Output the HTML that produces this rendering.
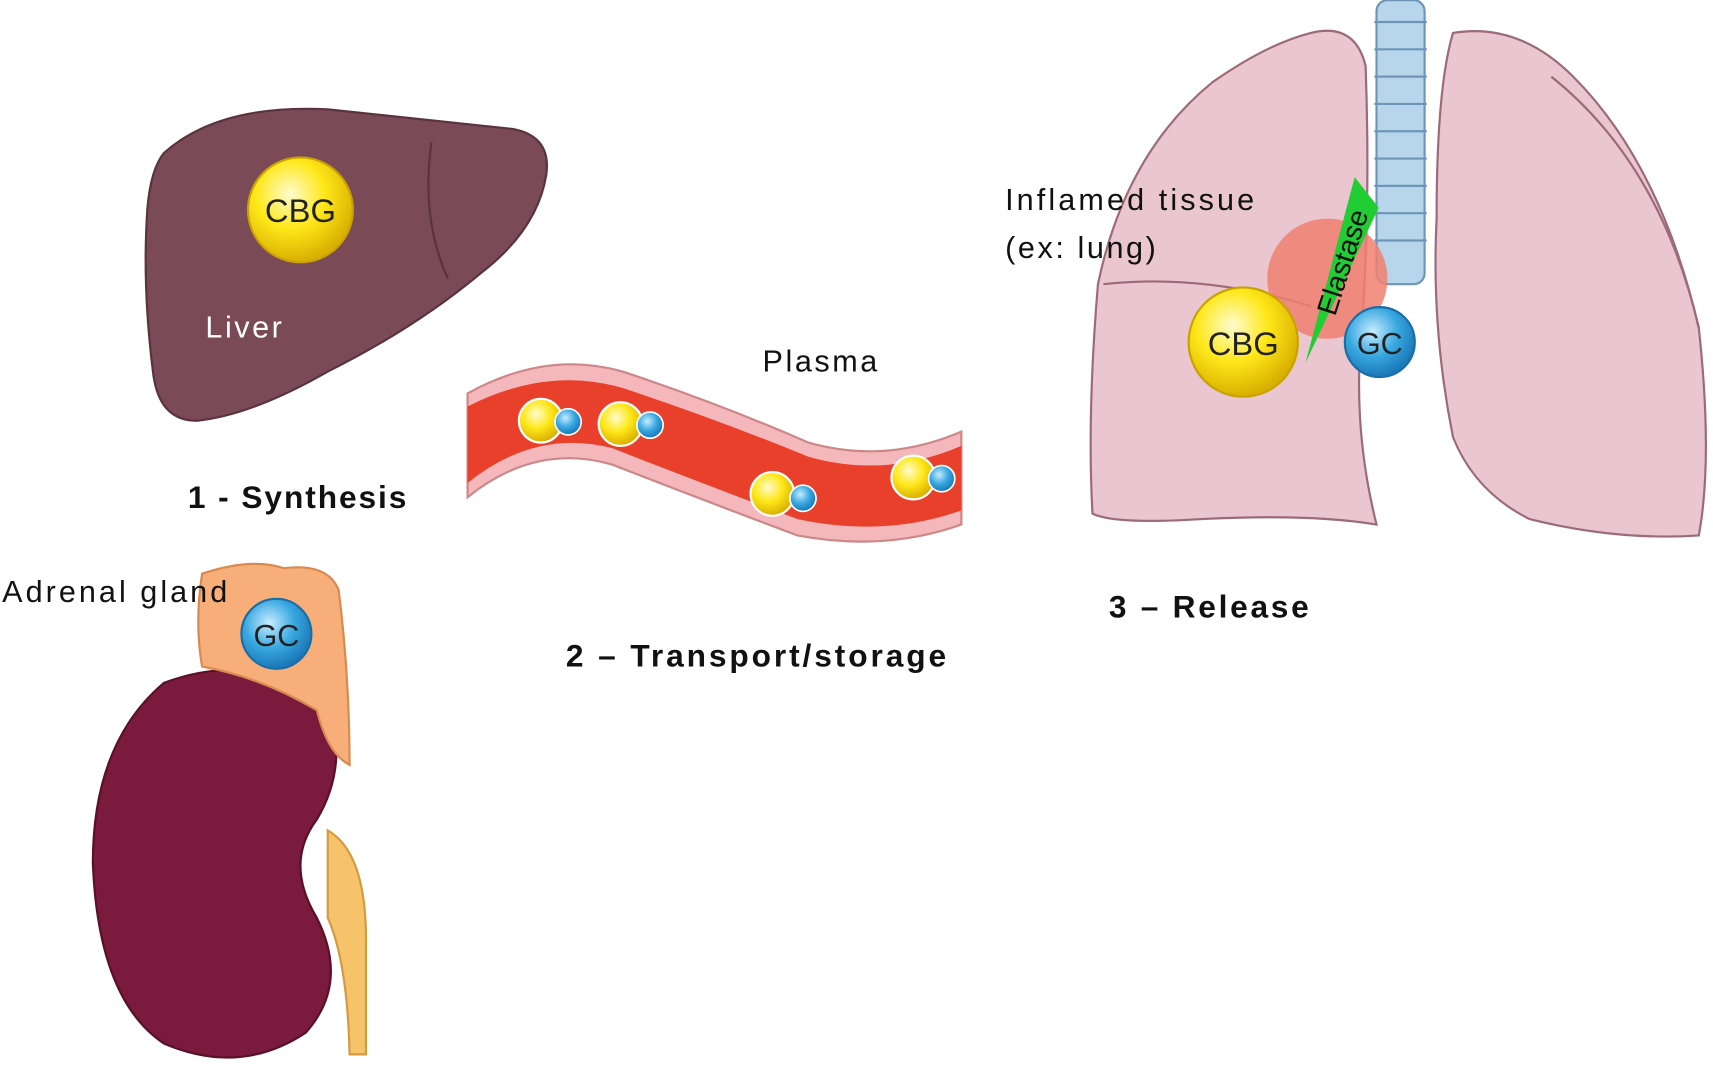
<!DOCTYPE html>
<html><head><meta charset="utf-8"><style>
html,body{margin:0;padding:0;background:#fff;}
svg{display:block}
text{font-family:"Liberation Sans",sans-serif;}
</style></head><body>
<svg width="1713" height="1072" viewBox="0 0 1568 981" xmlns="http://www.w3.org/2000/svg">
<defs>
<radialGradient id="y" cx="40%" cy="35%" r="65%"><stop offset="0" stop-color="#fffbd0"/><stop offset="0.5" stop-color="#ffe81a"/><stop offset="1" stop-color="#d8b000"/></radialGradient>
<radialGradient id="b" cx="40%" cy="35%" r="65%"><stop offset="0" stop-color="#c8ecff"/><stop offset="0.55" stop-color="#38a8e0"/><stop offset="1" stop-color="#1a78b8"/></radialGradient>
</defs>
<!-- Liver -->
<path d="M150 140 Q200 95 300 100 L470 118 Q505 125 500 160 Q492 210 440 250 Q380 300 300 340 Q230 380 180 385 Q145 385 140 340 Q130 260 135 190 Q138 155 150 140Z" fill="#7b4a57" stroke="#5a3340" stroke-width="2"/>
<path d="M395 130 Q385 200 410 255" fill="none" stroke="#5a3340" stroke-width="2"/>
<circle cx="275" cy="192" r="48" fill="url(#y)" stroke="#c9a200" stroke-width="2"/>
<text x="275" y="203" font-size="30" text-anchor="middle" fill="#222">CBG</text>
<text x="188" y="309" font-size="28" fill="#fff" textLength="70">Liver</text>
<text x="172" y="465" font-size="29" font-weight="bold" fill="#111" textLength="200">1 - Synthesis</text>
<!-- Vessel -->
<path d="M428 360 Q500 320 570 340 Q660 370 740 405 Q810 425 880 395 L880 480 Q810 505 730 490 Q650 460 560 425 Q490 405 428 455Z" fill="#f4b8bc" stroke="#c88" stroke-width="2"/>
<path d="M428 372 Q500 335 570 355 Q660 385 740 418 Q810 438 880 408 L880 467 Q810 492 730 475 Q650 445 560 410 Q490 392 428 442Z" fill="#e8402a"/>
<g stroke="#fff" stroke-width="2" fill="url(#y)">
<circle cx="495" cy="385" r="20"/><circle cx="568" cy="388" r="20"/><circle cx="707" cy="452" r="20"/><circle cx="836" cy="437" r="20"/></g>
<g stroke="#fff" stroke-width="1.5" fill="url(#b)">
<circle cx="520" cy="386" r="12"/><circle cx="595" cy="389" r="12"/><circle cx="735" cy="456" r="12"/><circle cx="862" cy="438" r="12"/></g>
<text x="698" y="340" font-size="28" fill="#111" textLength="105">Plasma</text>
<text x="518" y="610" font-size="29" font-weight="bold" fill="#111" textLength="348">2 – Transport/storage</text>
<!-- Kidney -->
<path d="M300 760 Q335 780 335 860 L335 965 L320 965 Q318 880 300 840 Z" fill="#f6c36a" stroke="#d49a40" stroke-width="2"/>
<path d="M150 625 Q230 595 300 640 Q320 700 290 750 Q260 790 290 840 Q320 900 280 945 Q220 985 150 955 Q90 915 85 790 Q85 680 150 625Z" fill="#7a1a3c" stroke="#5a1028" stroke-width="2"/>
<path d="M185 525 Q230 510 260 520 Q300 515 310 540 Q320 620 320 700 Q300 690 290 650 Q240 620 185 610 Q178 570 185 525Z" fill="#f7ae78" stroke="#d98a50" stroke-width="2"/>
<circle cx="253" cy="580" r="32" fill="url(#b)" stroke="#1a6ea8" stroke-width="2"/>
<text x="253" y="591" font-size="28" text-anchor="middle" fill="#222">GC</text>
<text x="2" y="551" font-size="28" fill="#111" textLength="206">Adrenal gland</text>
<!-- Lungs -->
<g fill="#b7d6ec" stroke="#6e95b8" stroke-width="2">
<rect x="1260" y="0" width="44" height="260" rx="10"/></g>
<g stroke="#6e95b8" stroke-width="2">
<line x1="1258" y1="20" x2="1306" y2="20"/><line x1="1258" y1="45" x2="1306" y2="45"/><line x1="1258" y1="70" x2="1306" y2="70"/><line x1="1258" y1="95" x2="1306" y2="95"/><line x1="1258" y1="120" x2="1306" y2="120"/><line x1="1258" y1="145" x2="1306" y2="145"/><line x1="1258" y1="170" x2="1306" y2="170"/><line x1="1258" y1="195" x2="1306" y2="195"/><line x1="1258" y1="220" x2="1306" y2="220"/></g>
<path d="M1200 30 Q1240 20 1250 60 Q1255 200 1245 320 Q1240 400 1260 480 Q1200 470 1100 475 Q1020 480 1000 470 Q995 380 1005 260 Q1030 140 1110 75 Q1160 40 1200 30Z" fill="#e9c6d0" stroke="#9c6a7a" stroke-width="2"/>
<path d="M1330 30 Q1390 20 1440 70 Q1520 150 1555 300 Q1568 420 1555 490 Q1480 495 1400 475 Q1350 450 1330 400 Q1310 300 1315 200 Q1315 80 1330 30Z" fill="#e9c6d0" stroke="#9c6a7a" stroke-width="2"/>
<path d="M1010 260 Q1100 250 1200 280" fill="none" stroke="#9c6a7a" stroke-width="2"/>
<path d="M1420 70 Q1520 150 1555 300" fill="none" stroke="#9c6a7a" stroke-width="2"/>
<circle cx="1215" cy="255" r="55" fill="#f08070" opacity="0.85"/>
<polygon points="1240,162 1262,190 1195,332" fill="#22cc33"/>
<text transform="translate(1222,290) rotate(-72)" font-size="26" fill="#111">Elastase</text>
<circle cx="1138" cy="313" r="50" fill="url(#y)" stroke="#c9a200" stroke-width="2"/>
<text x="1138" y="325" font-size="30" text-anchor="middle" fill="#222">CBG</text>
<circle cx="1263" cy="313" r="32" fill="url(#b)" stroke="#1a6ea8" stroke-width="2"/>
<text x="1263" y="324" font-size="28" text-anchor="middle" fill="#222">GC</text>
<text x="920" y="192" font-size="28" fill="#111" textLength="228">Inflamed tissue</text>
<text x="920" y="236" font-size="28" fill="#111" textLength="138">(ex: lung)</text>
<text x="1015" y="565" font-size="29" font-weight="bold" fill="#111" textLength="183">3 – Release</text>
</svg>
</body></html>
